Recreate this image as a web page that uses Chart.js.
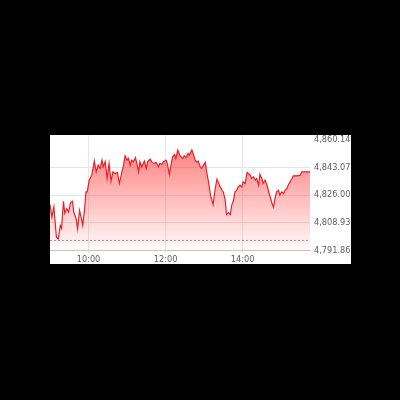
<!DOCTYPE html>
<html><head><meta charset="utf-8">
<script src="https://cdn.jsdelivr.net/npm/chart.js@4/dist/chart.umd.min.js"></script>
<style>
html,body{margin:0;padding:0;background:#000;width:400px;height:400px;overflow:hidden}
#wrap{position:absolute;left:50px;top:135px;width:301px;height:129px;background:#fff}
canvas{display:block}
</style></head><body>
<div id="wrap"><canvas id="c" width="301" height="129"></canvas></div>
<script>
const times = ['09:00','09:03','09:06','09:10','09:13','09:16','09:18','09:21','09:23','09:26',
'09:29','09:32','09:35','09:37','09:41','09:43','09:46','09:49','09:51','09:54',
'09:56','09:58','10:01','10:05','10:08','10:09','10:12','10:15','10:18','10:21',
'10:23','10:26','10:29','10:32','10:35','10:38','10:41','10:45','10:48','10:52',
'10:54','10:57','11:00','11:02','11:05','11:07','11:10','11:13','11:15','11:18',
'11:20','11:23','11:27','11:30','11:32','11:36','11:39','11:42','11:45','11:49',
'11:51','11:54','11:57','12:01','12:03','12:06','12:09','12:11','12:14','12:16',
'12:19','12:22','12:24','12:27','12:29','12:32','12:35','12:37','12:41','12:43',
'12:46','12:49','12:51','12:54','12:56','12:59','13:02','13:04','13:07','13:10',
'13:14','13:17','13:20','13:22','13:25','13:28','13:30','13:33','13:35','13:38',
'13:41','13:43','13:46','13:48','13:51','13:53','13:56','13:59','14:01','14:04',
'14:07','14:09','14:12','14:14','14:17','14:20','14:22','14:25','14:27','14:30',
'14:32','14:35','14:38','14:40','14:43','14:46','14:48','14:51','14:53','14:56',
'14:58','15:01','15:04','15:06','15:09','15:11','15:14','15:17','15:19','15:25',
'15:30','15:32','15:45'];
const values = [4820.23,4812.53,4818.74,4800.12,4799.12,4807.38,4805.52,4822.27,4814.83,4817.74,
4815.63,4821.47,4822.27,4815.63,4811.10,4805.33,4816.69,4811.54,4807.38,4817.74,
4828.05,4828.05,4835.31,4838.41,4844.62,4847.10,4840.46,4844.62,4842.57,4847.72,
4843.57,4846.67,4836.37,4845.68,4834.69,4840.46,4839.47,4840.09,4833.26,4840.46,
4843.57,4850.39,4847.72,4848.78,4844.62,4847.72,4846.67,4849.15,4846.30,4840.46,
4846.67,4843.57,4847.10,4842.57,4846.67,4848.34,4846.30,4845.68,4846.30,4843.57,
4845.68,4845.06,4846.67,4847.72,4845.06,4838.85,4845.68,4849.77,4851.26,4848.78,
4853.93,4850.83,4849.77,4848.78,4850.39,4849.40,4851.88,4850.83,4853.93,4851.88,
4847.72,4846.30,4847.10,4843.57,4842.57,4844.62,4846.30,4840.46,4834.07,4826.00,
4820.23,4829.10,4835.93,4834.26,4831.15,4829.10,4828.05,4822.90,4814.02,4815.26,
4814.02,4819.79,4822.90,4828.05,4829.10,4831.15,4832.21,4831.15,4834.26,4833.26,
4840.09,4839.47,4838.41,4836.37,4837.36,4835.31,4836.37,4832.21,4838.85,4836.37,
4833.26,4835.31,4832.21,4829.10,4824.94,4820.85,4818.74,4824.94,4828.05,4829.10,
4826.00,4828.05,4827.05,4829.10,4830.16,4832.21,4834.26,4836.37,4837.98,4837.98,
4838.41,4840.46,4840.46];
const prevClose = [4798.07];
const yTickValues = [4791.86, 4808.93, 4826.00, 4843.07, 4860.14];
const xTickLabels = ['10:00', '12:00', '14:00'];
const sessionRange = ['09:00', '15:45'];

const toMin = s => { const p = s.split(':').map(Number); return p[0] * 60 + p[1]; };
const fmtTime = m => String(Math.floor(m / 60)).padStart(2, '0') + ':' + String(m % 60).padStart(2, '0');
const fmtNum = v => v.toLocaleString('en-US', {minimumFractionDigits: 2, maximumFractionDigits: 2});

const mainData = times.map((t, i) => ({x: toMin(t), y: values[i]}));
const refData = sessionRange.map(t => ({x: toMin(t), y: prevClose[0]}));
const topTick = Math.max(...yTickValues);
const FONT = {family: 'DejaVu Sans', size: 8.2};

new Chart(document.getElementById('c'), {
  type: 'line',
  data: {
    datasets: [
      {
        data: mainData,
        borderColor: '#e8212b',
        borderWidth: 1.2,
        pointRadius: 0,
        tension: 0,
        fill: 'start',
        order: 2,
        backgroundColor: (ctx) => {
          const ca = ctx.chart.chartArea;
          if (!ca) return 'rgba(255,60,60,0.4)';
          const g = ctx.chart.ctx.createLinearGradient(0, ca.top, 0, ca.bottom);
          g.addColorStop(0, 'rgba(255,40,40,0.66)');
          g.addColorStop(1, 'rgba(255,40,40,0.02)');
          return g;
        }
      },
      {
        data: refData,
        borderColor: '#9a9a9a',
        borderWidth: 1,
        borderDash: [2, 2],
        pointRadius: 0,
        fill: false,
        order: 1
      }
    ]
  },
  options: {
    responsive: false,
    animation: false,
    devicePixelRatio: 1,
    layout: {padding: 0},
    plugins: {legend: {display: false}, tooltip: {enabled: false}},
    scales: {
      x: {
        type: 'linear',
        min: toMin(sessionRange[0]),
        max: toMin(sessionRange[1]),
        afterBuildTicks: (s) => { s.ticks = xTickLabels.map(t => ({value: toMin(t)})); },
        afterFit: (s) => { s.height = 13.5; s.paddingLeft = 0; s.paddingRight = 0; },
        ticks: {
          callback: (v) => fmtTime(v),
          font: FONT, color: '#5e5e5e', maxRotation: 0, autoSkip: false, padding: 1
        },
        grid: {color: '#e6e6e6', tickLength: 3, drawTicks: true},
        border: {color: '#c4c4c4'}
      },
      y: {
        position: 'right',
        min: yTickValues[0],
        max: 4863.24,
        afterBuildTicks: (s) => { s.ticks = yTickValues.map(v => ({value: v})); },
        afterFit: (s) => { s.width = 41; s.paddingTop = 0; s.paddingBottom = 0; },
        ticks: {
          callback: (v) => fmtNum(v),
          font: FONT, color: '#5e5e5e', padding: 4
        },
        grid: {
          color: (ctx) => (ctx.tick && ctx.tick.value === topTick) ? 'rgba(0,0,0,0)' : '#e6e6e6',
          drawTicks: false
        },
        border: {display: false}
      }
    }
  }
});
</script>
</body></html>
